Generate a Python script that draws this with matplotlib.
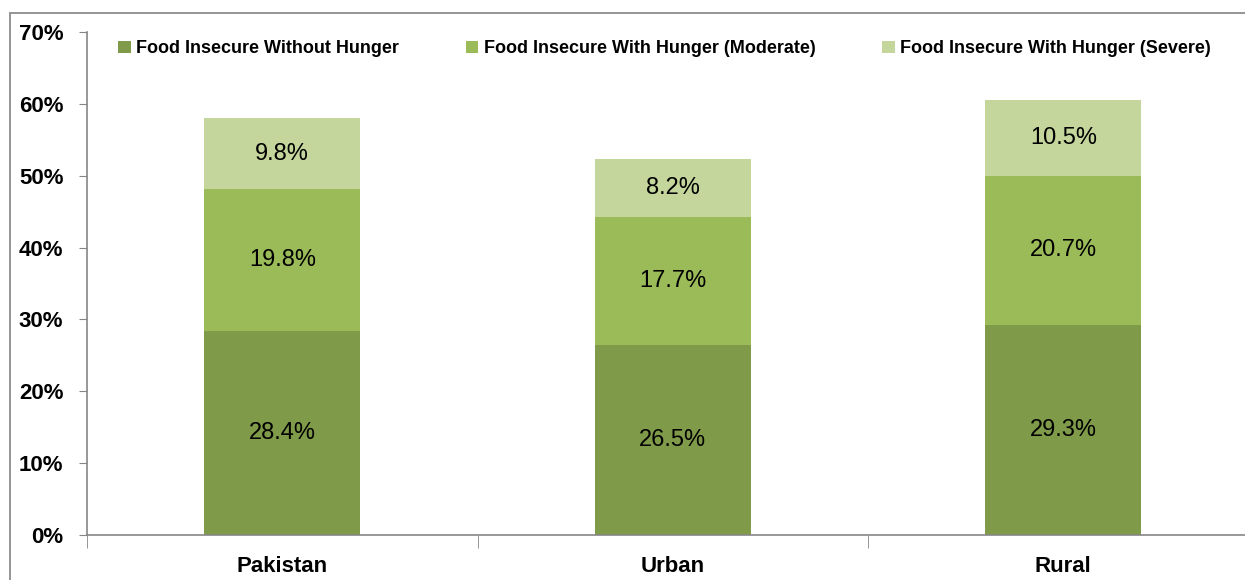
import numpy as np
import matplotlib
matplotlib.use("Agg")
import matplotlib.pyplot as plt
from matplotlib.patches import Rectangle

plt.rcParams['font.family'] = ['Liberation Sans', 'DejaVu Sans']

categories = ["Pakistan", "Urban", "Rural"]
series_names = ["Food Insecure Without Hunger",
                "Food Insecure With Hunger (Moderate)",
                "Food Insecure With Hunger (Severe)"]
without_hunger = [28.4, 26.5, 29.3]
moderate = [19.8, 17.7, 20.7]
severe = [9.8, 8.2, 10.5]
colors = ["#7F9A48", "#9BBB59", "#C4D69B"]

fig = plt.figure(figsize=(12.45, 5.8), dpi=100)
ax = fig.add_axes([0.0699, 0.0776, 0.941, 0.867])

# outer chart frame
fig.patches.append(Rectangle((10 / 1245, -0.1), 1.2, 1 - 13 / 580 + 0.1,
                             transform=fig.transFigure, fill=False,
                             edgecolor="#8C8C8C", linewidth=1.3))

x = np.arange(len(categories))
bottom = np.zeros(len(categories))
for name, vals, col in zip(series_names, [without_hunger, moderate, severe], colors):
    vals = np.array(vals) / 100
    ax.bar(x, vals, width=0.4, bottom=bottom, color=col, label=name)
    for xi, b, v in zip(x, bottom, vals):
        ax.text(xi, b + v / 2, "{:.1f}%".format(v * 100), ha="center",
                va="center", fontsize=17, color="black")
    bottom += vals

ax.set_xlim(-0.5, 2.5)
ax.set_ylim(0, 0.7)
ax.set_yticks(np.arange(0, 0.71, 0.1))
ax.set_yticklabels(["{:d}%".format(int(round(t * 100))) for t in np.arange(0, 0.71, 0.1)],
                   fontsize=16, fontweight="bold")
ax.set_xticks(x)
ax.set_xticklabels(categories, fontsize=16, fontweight="bold")
ax.set_xticks([-0.5, 0.5, 1.5, 2.5], minor=True)
ax.tick_params(axis="x", which="major", length=0, pad=15)
ax.tick_params(axis="x", which="minor", length=9, color="#868686")
ax.tick_params(axis="y", length=6, color="#868686", pad=11)

for s in ["top", "right"]:
    ax.spines[s].set_visible(False)
for s in ["left", "bottom"]:
    ax.spines[s].set_color("#868686")
    ax.spines[s].set_linewidth(1.2)

ax.legend(loc="upper center", bbox_to_anchor=(0.493, 1.005), ncol=3, frameon=False,
          prop={"weight": "bold", "size": 13}, handlelength=0.7, handleheight=0.7,
          handletextpad=0.3, columnspacing=3.7, borderaxespad=0.2)

fig.savefig("out.png", dpi=100)
